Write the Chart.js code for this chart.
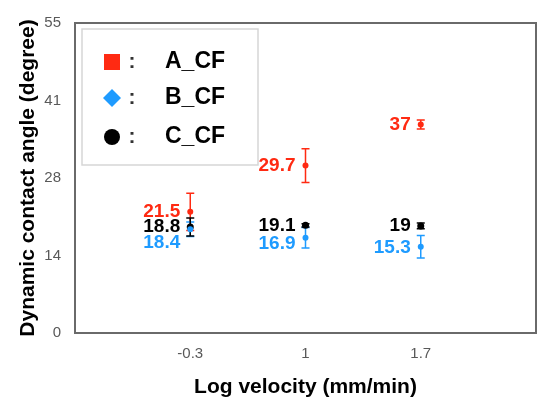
<!DOCTYPE html>
<html>
<head>
<meta charset="utf-8">
<script src="https://cdn.jsdelivr.net/npm/chart.js@4/dist/chart.umd.min.js"></script>
<style>
html,body{margin:0;padding:0;background:#fff;}
#wrap{width:542px;height:398px;position:relative;}
</style>
</head>
<body>
<div id="wrap"><canvas id="c" width="542" height="398"></canvas></div>
<script>
// ---- data ----
const categories = ['-0.3', '1', '1.7'];
const seriesNames = ['A_CF', 'B_CF', 'C_CF'];
const valuesA = [21.5, 29.7, 37];
const valuesB = [18.4, 16.9, 15.3];
const valuesC = [18.8, 19.1, 19];
const errorsA = [3.3, 3.0, 0.8];
const errorsB = [1.3, 1.8, 2.0];
const errorsC = [1.6, 0.3, 0.5];
const yTicks = [0, 14, 28, 41, 55];

const FONT = "'Liberation Sans', Arial, sans-serif";
const RED = '#ff2a12';
const BLUE = '#1e9bff';
const BLACK = '#000000';

function pts(vals) { return vals.map((v, i) => ({ x: categories[i], y: v })); }

const ds = (label, vals, errs, color, radius, labelDy) => ({
  label, data: pts(vals), errors: errs, labelDy,
  showLine: false, borderColor: color, backgroundColor: color,
  pointRadius: radius, pointHoverRadius: radius, pointBorderWidth: 0
});

const framePlugin = {
  id: 'frame',
  afterDraw(chart) {
    const { ctx, chartArea: a } = chart;
    ctx.save();
    ctx.strokeStyle = '#6a6a6a';
    ctx.lineWidth = 2;
    ctx.strokeRect(a.left, a.top, a.right - a.left, a.bottom - a.top);
    ctx.restore();
  }
};

const errorPlugin = {
  id: 'errbars',
  beforeDatasetsDraw(chart) {
    const { ctx } = chart;
    const xs = chart.scales.x, ys = chart.scales.y;
    ctx.save();
    chart.data.datasets.forEach(d => {
      ctx.strokeStyle = d.borderColor;
      ctx.lineWidth = 1.5;
      d.data.forEach((p, i) => {
        const e = d.errors[i];
        const x = xs.getPixelForValue(xs.parse(p.x));
        const y1 = ys.getPixelForValue(p.y + e);
        const y2 = ys.getPixelForValue(p.y - e);
        ctx.beginPath();
        ctx.moveTo(x, y1); ctx.lineTo(x, y2);
        ctx.moveTo(x - 4, y1); ctx.lineTo(x + 4, y1);
        ctx.moveTo(x - 4, y2); ctx.lineTo(x + 4, y2);
        ctx.stroke();
      });
    });
    ctx.restore();
  }
};

const labelPlugin = {
  id: 'vlabels',
  afterDatasetsDraw(chart) {
    const { ctx } = chart;
    const xs = chart.scales.x, ys = chart.scales.y;
    ctx.save();
    ctx.font = 'bold 19px ' + FONT;
    ctx.textAlign = 'right';
    ctx.textBaseline = 'middle';
    chart.data.datasets.forEach(d => {
      ctx.fillStyle = d.borderColor;
      d.data.forEach((p, i) => {
        const x = xs.getPixelForValue(xs.parse(p.x));
        const y = ys.getPixelForValue(p.y) + (d.labelDy ? d.labelDy[i] : 0);
        ctx.fillText(String(p.y), x - 10, y);
      });
    });
    ctx.restore();
  }
};

const legendPlugin = {
  id: 'customLegend',
  afterDraw(chart) {
    const { ctx, chartArea: a } = chart;
    ctx.save();
    ctx.strokeStyle = '#d6d6d6';
    ctx.lineWidth = 1.5;
    ctx.strokeRect(a.left + 7, a.top + 6, 176, 136);
    const rows = [39, 75, 114];
    chart.data.datasets.forEach((d, i) => {
      const cx = a.left + 37, cy = a.top + rows[i];
      ctx.fillStyle = d.borderColor;
      ctx.beginPath();
      if (i === 0) ctx.rect(cx - 8, cy - 8, 16, 16);
      else if (i === 1) { ctx.moveTo(cx, cy - 9); ctx.lineTo(cx + 9, cy); ctx.lineTo(cx, cy + 9); ctx.lineTo(cx - 9, cy); ctx.closePath(); }
      else ctx.arc(cx, cy, 8, 0, Math.PI * 2);
      ctx.fill();
      ctx.fillStyle = '#333';
      ctx.font = 'bold 21px ' + FONT;
      ctx.textAlign = 'center';
      ctx.textBaseline = 'middle';
      ctx.fillText(':', a.left + 57, cy);
      ctx.fillStyle = '#000';
      ctx.font = 'bold 23px ' + FONT;
      ctx.textAlign = 'left';
      ctx.fillText(d.label, a.left + 90, cy);
    });
    ctx.restore();
  }
};

new Chart(document.getElementById('c'), {
  type: 'line',
  data: {
    labels: ['', ...categories, ''],
    datasets: [
      ds(seriesNames[0], valuesA, errorsA, RED, 3, null),
      ds(seriesNames[1], valuesB, errorsB, BLUE, 3, [13, 6, 1]),
      ds(seriesNames[2], valuesC, errorsC, BLACK, 3.5, null)
    ]
  },
  options: {
    responsive: false,
    animation: false,
    layout: { padding: { left: 0, right: 0, top: 13, bottom: 0 } },
    plugins: { legend: { display: false }, tooltip: { enabled: false } },
    scales: {
      x: {
        type: 'category',
        offset: false,
        grid: { display: false, drawTicks: false },
        border: { display: false },
        ticks: { color: '#595959', font: { family: FONT, size: 15 }, padding: 12, autoSkip: false, maxRotation: 0 },
        title: { display: true, text: 'Log velocity (mm/min)', color: '#000', font: { family: FONT, size: 21, weight: 'bold', lineHeight: 1.0 }, padding: { top: 0, bottom: 0 } },
        afterFit(s) { s.height = 398 - 333; s.paddingRight = 6; }
      },
      y: {
        min: 0, max: 55,
        grid: { display: false, drawTicks: false },
        border: { display: false },
        afterBuildTicks(s) { s.ticks = yTicks.map((t, i) => ({ value: 55 * i / (yTicks.length - 1) })); },
        ticks: {
          color: '#595959', font: { family: FONT, size: 15 }, padding: 14,
          callback: (v, i) => yTicks[i]
        },
        title: { display: true, text: 'Dynamic contact angle (degree)', color: '#000', font: { family: FONT, size: 21, weight: 'bold' }, padding: { top: 16, bottom: 0 } },
        afterFit(s) { s.width = 75; }
      }
    }
  },
  plugins: [framePlugin, errorPlugin, labelPlugin, legendPlugin]
});
</script>
</body>
</html>
